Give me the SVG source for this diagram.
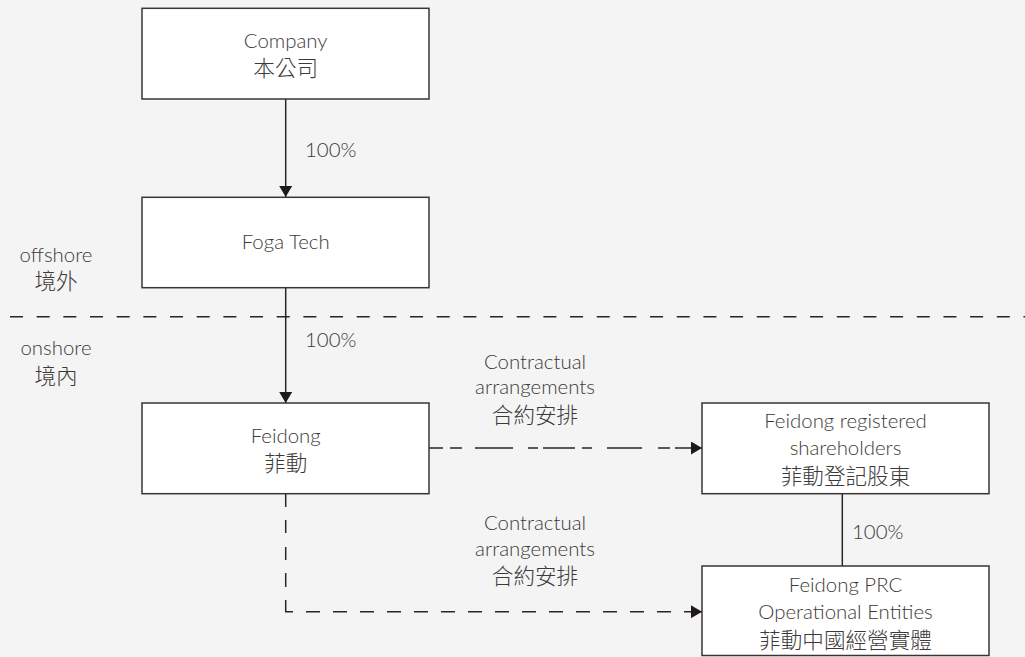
<svg xmlns="http://www.w3.org/2000/svg" width="1025" height="657" viewBox="0 0 1025 657">
  <style>
    .box { fill: #ffffff; stroke: #3a3434; stroke-width: 1.5; }
    .t { font-family: "Lato", "Noto Sans CJK TC", sans-serif; font-weight: 300; font-size: 20.4px; fill: #3d3939; text-anchor: middle; }
    .c { font-family: "Noto Sans CJK TC", sans-serif; font-size: 21.6px; font-weight: 300; }
    .tl { text-anchor: start; }
    .ln { fill: none; stroke: #2a2424; stroke-width: 1.5; }
    .dash { fill: none; stroke: #2a2424; stroke-width: 1.5; stroke-dasharray: 13 13.67; }
  </style>
  <defs>
    <marker id="arr" viewBox="0 0 11 13" refX="11" refY="6.5" markerWidth="11" markerHeight="13" markerUnits="userSpaceOnUse" orient="auto">
      <path d="M0 0L11 6.5L0 13Z" fill="#1e1a1a"/>
    </marker>
  </defs>
  <rect width="1025" height="657" fill="#f4f4f4"/>

  <g id="divider">
    <line x1="10" y1="316.7" x2="1025" y2="316.7" class="dash"/>
    <text class="t" x="56" y="262">offshore</text>
    <text class="t c" x="56" y="289">境外</text>
    <text class="t" x="56" y="355">onshore</text>
    <text class="t c" x="56" y="384">境內</text>
  </g>

  <g id="connectors">
    <line class="ln" x1="285.7" y1="99" x2="285.7" y2="197" marker-end="url(#arr)"/>
    <text class="t tl" x="305" y="157">100%</text>
    <line class="ln" x1="285.7" y1="288" x2="285.7" y2="403" marker-end="url(#arr)"/>
    <text class="t tl" x="305" y="347">100%</text>
    <path class="ln" d="M429 448H443M450 448H462M475 448H513M528 448H538M543 448H575M582 448H592M607 448H642M658 448H670M675 448H702" marker-end="url(#arr)"/>
    <text class="t" x="535" y="369">Contractual</text>
    <text class="t" x="535" y="394">arrangements</text>
    <text class="t c" x="535" y="423">合約安排</text>
    <path class="ln" d="M285.7 494V507M285.7 520V533M285.7 547V560M285.7 573V587M285.7 600V611.7H293M306 611.7H320M333 611.7H347M360 611.7H374M387 611.7H401M414 611.7H428M441 611.7H455M468 611.7H482M495 611.7H509M522 611.7H536M549 611.7H563M576 611.7H590M603 611.7H617M630 611.7H644M657 611.7H671M684 611.7H702" marker-end="url(#arr)"/>
    <text class="t" x="535" y="530">Contractual</text>
    <text class="t" x="535" y="556">arrangements</text>
    <text class="t c" x="535" y="584">合約安排</text>
    <line class="ln" x1="842.3" y1="494" x2="842.3" y2="566"/>
    <text class="t tl" x="852" y="539">100%</text>
  </g>

  <g id="company">
    <rect class="box" x="142" y="8.3" width="287" height="90.7"/>
    <text class="t" x="285.7" y="48">Company</text>
    <text class="t c" x="285.7" y="76">本公司</text>
  </g>
  <g id="foga-tech">
    <rect class="box" x="142" y="197.3" width="287" height="90.4"/>
    <text class="t" x="285.7" y="249">Foga Tech</text>
  </g>
  <g id="feidong">
    <rect class="box" x="142" y="403" width="287" height="90.7"/>
    <text class="t" x="285.7" y="443">Feidong</text>
    <text class="t c" x="285.7" y="471">菲動</text>
  </g>
  <g id="registered-shareholders">
    <rect class="box" x="702" y="403" width="287" height="90.7"/>
    <text class="t" x="845.5" y="428">Feidong registered</text>
    <text class="t" x="845.5" y="455">shareholders</text>
    <text class="t c" x="845.5" y="484">菲動登記股東</text>
  </g>
  <g id="prc-entities">
    <rect class="box" x="702" y="566" width="287" height="89.5"/>
    <text class="t" x="845.5" y="592">Feidong PRC</text>
    <text class="t" x="845.5" y="619">Operational Entities</text>
    <text class="t c" x="845.5" y="648">菲動中國經營實體</text>
  </g>
</svg>
